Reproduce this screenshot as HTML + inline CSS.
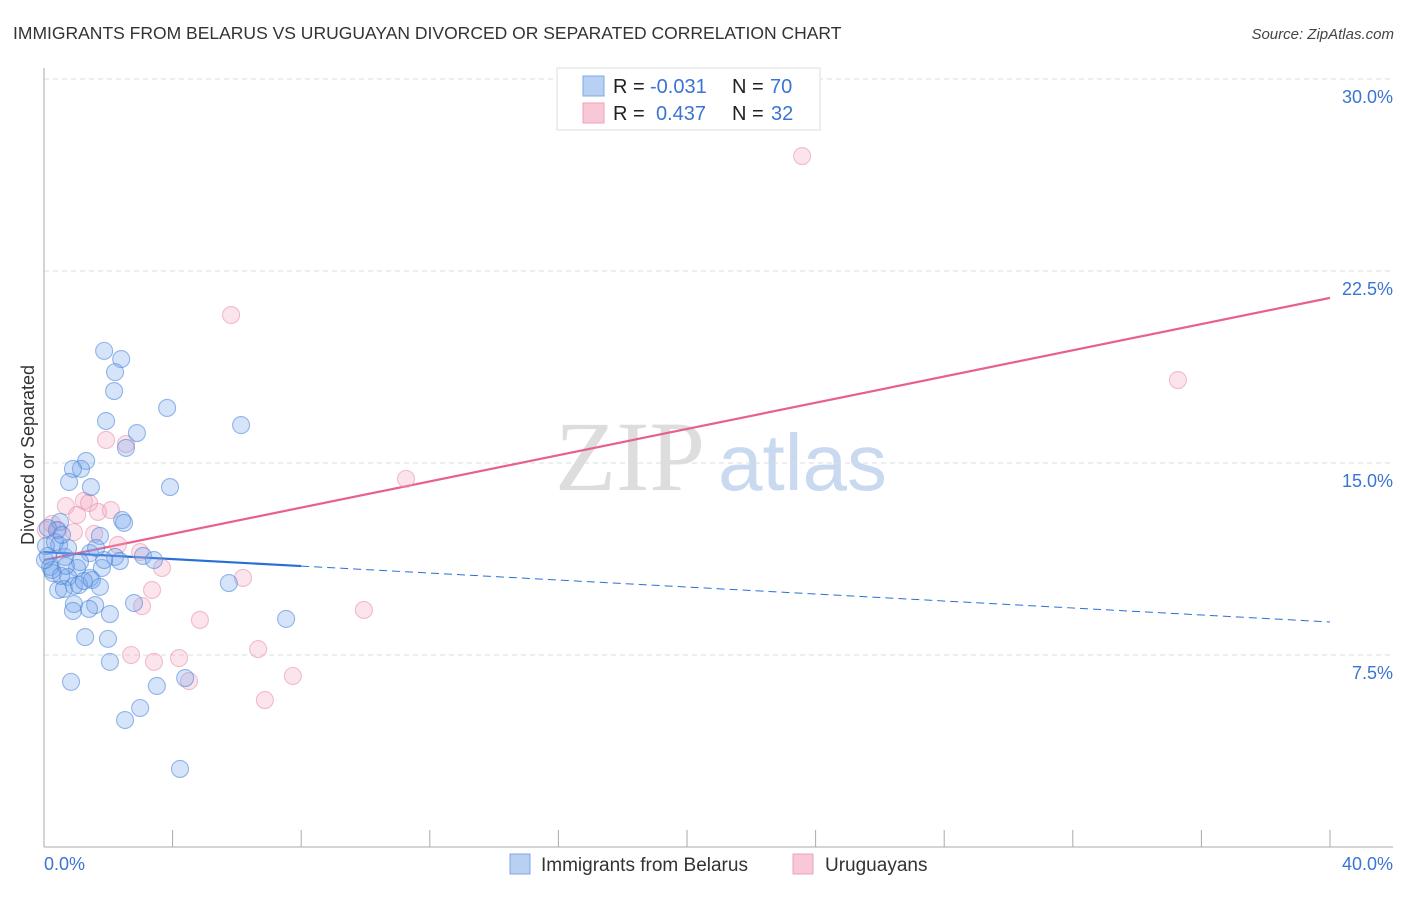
<!DOCTYPE html>
<html><head><meta charset="utf-8"><style>
body{margin:0;background:#fff;width:1406px;height:892px;overflow:hidden;font-family:"Liberation Sans",sans-serif}
</style></head><body>
<svg id="chart" width="1406" height="892" xmlns="http://www.w3.org/2000/svg" font-family="Liberation Sans, sans-serif">
<text x="13" y="39" font-size="17.5" fill="#333">IMMIGRANTS FROM BELARUS VS URUGUAYAN DIVORCED OR SEPARATED CORRELATION CHART</text>
<text x="1394" y="39" font-size="15" fill="#444" font-style="italic" text-anchor="end">Source: ZipAtlas.com</text>
<g>
<text x="555" y="490" font-size="100" fill="#ddd" font-family="Liberation Serif, serif">ZIP</text>
<text x="718" y="490" font-size="80" fill="#c8d9f0">atlas</text>
</g>
<g id="grid"></g>
<g id="axes"></g>
<g id="trend"></g>
<g id="pts"></g>
<text transform="translate(34,455) rotate(-90)" font-size="18" fill="#333" text-anchor="middle">Divorced or Separated</text>
<g>
<rect x="557" y="68" width="263" height="62" fill="#fff" stroke="#ddd"/>
<rect x="583" y="76" width="21" height="20" fill="#b8d1f3" stroke="#7fa8e6"/>
<rect x="583" y="103" width="21" height="20" fill="#f9c8d6" stroke="#eda3bb"/>
<text x="613" y="93" font-size="20" fill="#222">R = <tspan x="650" fill="#3a74d4">-0.031</tspan><tspan x="732">N = </tspan><tspan x="770" fill="#3a74d4">70</tspan></text>
<text x="613" y="120" font-size="20" fill="#222">R = <tspan x="656" fill="#3a74d4">0.437</tspan><tspan x="732">N = </tspan><tspan x="771" fill="#3a74d4">32</tspan></text>
</g>
<g>
<rect x="510" y="854" width="20" height="20" fill="#b8d1f3" stroke="#7fa8e6"/>
<text x="541" y="871" font-size="19" fill="#333">Immigrants from Belarus</text>
<rect x="793" y="854" width="20" height="20" fill="#f9c8d6" stroke="#eda3bb"/>
<text x="825" y="871" font-size="19" fill="#333">Uruguayans</text>
</g>
</svg>
<script>
const blueX=[1.87,2.40,2.21,2.18,1.93,3.83,6.13,2.89,2.55,1.31,1.15,0.90,0.78,1.46,3.92,2.43,2.49,0.50,0.40,1.74,0.47,1.43,0.12,0.65,2.21,3.08,3.42,2.36,0.19,1.03,1.80,0.28,0.75,1.43,1.74,0.93,0.44,0.62,1.09,2.80,0.93,1.59,2.05,0.90,1.40,1.28,1.99,5.75,7.53,2.05,0.84,3.51,4.39,2.99,2.52,4.23,0.12,0.06,0.25,0.53,0.03,0.75,1.49,1.24,1.87,0.34,0.56,1.62,1.12,0.68];
const blueY=[19.38,19.06,18.55,17.81,16.64,17.15,16.48,16.17,15.59,15.08,14.77,14.77,14.26,14.06,14.06,12.77,12.66,12.70,12.38,12.15,11.80,11.48,11.37,11.33,11.33,11.37,11.21,11.17,10.94,10.90,10.90,10.70,10.55,10.51,10.16,10.20,10.04,10.08,10.23,9.53,9.49,9.45,9.10,9.22,9.30,8.20,8.13,10.31,8.91,7.23,6.45,6.29,6.60,5.43,4.96,3.05,12.46,11.76,10.82,10.59,11.21,11.68,10.43,10.39,11.21,11.91,12.19,11.68,11.13,10.98];
const pinkX=[23.58,5.82,35.27,1.93,2.55,11.26,0.68,1.24,1.40,2.08,1.68,1.03,0.93,0.44,0.25,0.06,2.30,1.56,2.99,3.67,3.36,6.19,3.05,4.85,9.95,6.66,7.74,6.87,2.71,3.42,4.20,4.51];
const pinkY=[26.99,20.78,18.24,15.90,15.74,14.38,13.32,13.52,13.44,13.16,13.09,12.97,12.30,12.38,12.62,12.38,11.80,12.23,11.52,10.90,10.04,10.51,9.41,8.87,9.26,7.73,6.68,5.74,7.50,7.23,7.38,6.48];
const yTicks=[7.5,15,22.5,30];
const yTickLabels=["7.5%","15.0%","22.5%","30.0%"];
const xTicks=[0,4,8,12,16,20,24,28,32,36,40];
const blueTrend=[11.52,8.79];
const pinkTrend=[11.21,21.45];
const blueSolidEnd=8;
const X0=44,X1=1330,Y0=847,YS=25.6;
const sx=v=>X0+(X1-X0)*v/40, sy=v=>Y0-v*YS;
const NS="http://www.w3.org/2000/svg";
function mk(tag,parent,attrs){const e=document.createElementNS(NS,tag);for(const k in attrs)e.setAttribute(k,attrs[k]);document.getElementById(parent).appendChild(e);return e;}
yTicks.forEach((t,i)=>{
 const g=mk('line','grid',{x1:X0,x2:1393,y1:sy(t),y2:sy(t),stroke:'#ddd','stroke-dasharray':'5,4'});
 
 
 const l=mk('text','axes',{x:1393,y:sy(t)+24,'font-size':18,fill:'#3a74d4','text-anchor':'end'});
 l.textContent=yTickLabels[i];
 
 
});
const ax=mk('line','axes',{x1:X0,x2:X0,y1:68,y2:Y0,stroke:'#aaa'});


const bx=mk('line','axes',{x1:X0,x2:1393,y1:Y0,y2:Y0,stroke:'#aaa'});


xTicks.forEach(t=>{const k=mk('line','axes',{x1:sx(t),x2:sx(t),y1:Y0,y2:Y0-17,stroke:'#aaa'});
 
 });
const x0l=mk('text','axes',{x:44,y:870,'font-size':18,fill:'#3a74d4'});x0l.textContent='0.0%';


const x1l=mk('text','axes',{x:1393,y:870,'font-size':18,fill:'#3a74d4','text-anchor':'end'});x1l.textContent='40.0%';


function pts(xs,ys,fill,stroke,name){xs.forEach((x,i)=>{const c=mk('circle','pts',{cx:sx(x),cy:sy(ys[i]),r:8.5,fill:fill,stroke:stroke,'stroke-width':1.1});
 
 });}
pts(pinkX,pinkY,'rgba(245,165,192,0.3)','rgba(232,140,172,0.55)','uruguayan-point');
pts(blueX,blueY,'rgba(120,165,235,0.3)','rgba(70,130,215,0.55)','belarus-point');
const bAt=x=>blueTrend[0]+(blueTrend[1]-blueTrend[0])*x/40;
const t1=mk('line','trend',{x1:sx(0),y1:sy(bAt(0)),x2:sx(blueSolidEnd),y2:sy(bAt(blueSolidEnd)),stroke:'#2a6fd6','stroke-width':2.2});


const t2=mk('line','trend',{x1:sx(blueSolidEnd),y1:sy(bAt(blueSolidEnd)),x2:sx(40),y2:sy(bAt(40)),stroke:'#2a6fd6','stroke-width':1,'stroke-dasharray':'8,5'});


const t3=mk('line','trend',{x1:sx(0),y1:sy(pinkTrend[0]),x2:sx(40),y2:sy(pinkTrend[1]),stroke:'#e8608e','stroke-width':2.2});


</script>
</body></html>
